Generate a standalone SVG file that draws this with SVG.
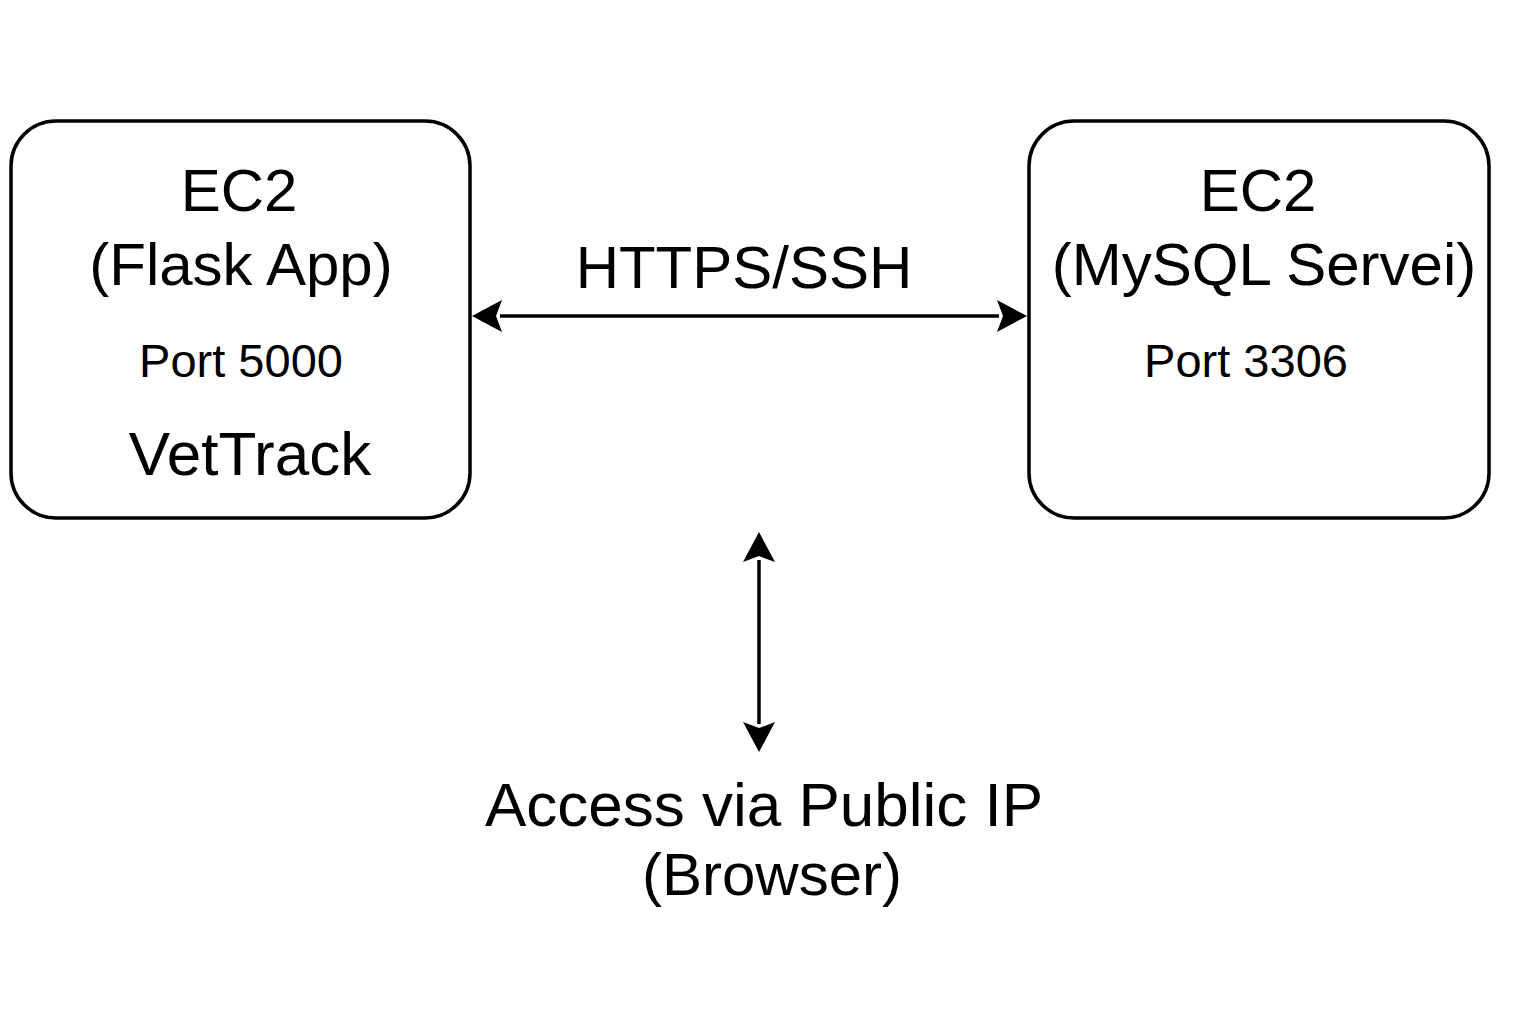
<svg xmlns="http://www.w3.org/2000/svg" width="1536" height="1024" viewBox="0 0 1536 1024">
<style>
.box{fill:#fff;stroke:#000;stroke-width:3.5}
text{font-family:"Liberation Sans",Arial,sans-serif;fill:#000;text-anchor:middle}
.big{font-size:60px}
.mid{font-size:47px}
.conn{stroke:#000;stroke-width:3.5;fill:none}
</style>
<defs>
<marker id="ah" markerUnits="userSpaceOnUse" viewBox="0 0 32 32" refX="2" refY="16" markerWidth="32" markerHeight="32" orient="auto-start-reverse">
<path d="M32,16 L2,0 L8,16 L2,32 Z" fill="#000" transform="translate(-2,0)"/>
</marker>
</defs>
<rect width="1536" height="1024" fill="#fff"/>
<g id="flask">
<rect class="box" x="11" y="121" width="459" height="397" rx="45" ry="45"/>
<text class="big" x="239" y="211">EC2</text>
<text class="big" x="241" y="285">(Flask App)</text>
<text class="mid" x="241" y="377">Port 5000</text>
<text class="big" x="250" y="475" style="font-size:62px">VetTrack</text>
</g>
<g id="mysql">
<rect class="box" x="1029" y="121" width="460" height="397" rx="45" ry="45"/>
<text class="big" x="1258" y="211">EC2</text>
<text class="big" x="1264" y="285">(MySQL Servei)</text>
<text class="mid" x="1246" y="377">Port 3306</text>
</g>
<g id="browser">
<text class="big" x="764" y="826" style="font-size:62px">Access via Public IP</text>
<text class="big" x="772" y="895">(Browser)</text>
</g>
<g id="connectors">
<line class="conn" x1="500" y1="316" x2="999" y2="316" marker-start="url(#ah)" marker-end="url(#ah)"/>
<line class="conn" x1="759" y1="560" x2="759" y2="724" marker-start="url(#ah)" marker-end="url(#ah)"/>
<text class="big" x="744" y="288">HTTPS/SSH</text>
</g>
</svg>
